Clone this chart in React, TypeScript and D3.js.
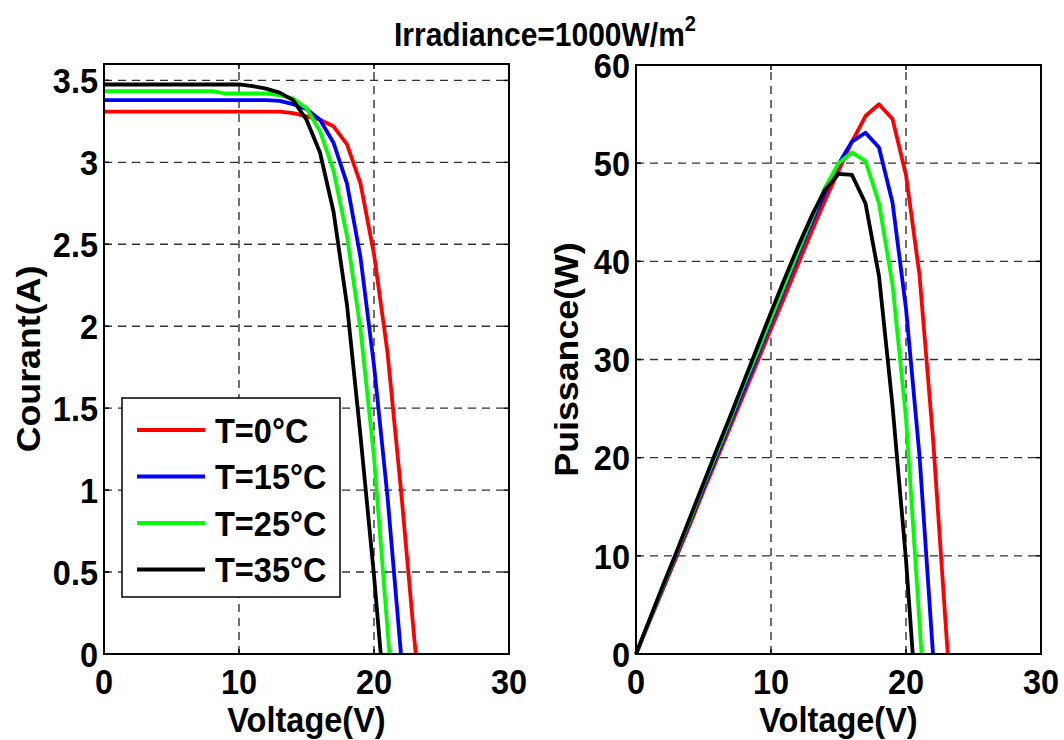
import React from "react";
import * as d3 from "d3";

// ---- data ----
const legendLabels = ["T=0°C", "T=15°C", "T=25°C", "T=35°C"];
const seriesColors = ["#ff0000", "#0000ff", "#00ff00", "#000000"];

const voltageT0 = [0, 1, 2, 3, 4, 5, 6, 7, 8, 9, 10, 11, 12, 13, 14, 15, 16, 17, 18, 19, 20, 21, 22, 23, 23.1];
const currentT0 = [3.31, 3.31, 3.31, 3.31, 3.31, 3.31, 3.31, 3.31, 3.31, 3.31, 3.31, 3.31, 3.31, 3.31, 3.3, 3.28, 3.26, 3.22, 3.11, 2.87, 2.44, 1.84, 1.0, 0.08, 0];
const powerT0 = [0, 3.3, 6.6, 9.9, 13.2, 16.6, 19.9, 23.2, 26.5, 29.8, 33.1, 36.4, 39.7, 43.0, 46.2, 49.2, 52.2, 54.8, 56.0, 54.5, 48.8, 38.6, 22.0, 1.8, 0];

const voltageT15 = [0, 1, 2, 3, 4, 5, 6, 7, 8, 9, 10, 11, 12, 13, 14, 15, 16, 17, 18, 19, 20, 21, 22];
const currentT15 = [3.38, 3.38, 3.38, 3.38, 3.38, 3.38, 3.38, 3.38, 3.38, 3.38, 3.38, 3.38, 3.38, 3.375, 3.355, 3.325, 3.26, 3.12, 2.87, 2.42, 1.76, 0.96, 0];
const powerT15 = [0, 3.4, 6.8, 10.1, 13.5, 16.9, 20.3, 23.7, 27.0, 30.4, 33.8, 37.2, 40.6, 43.9, 47.0, 49.9, 52.2, 53.1, 51.6, 46.0, 35.2, 20.2, 0];

const voltageT25 = [0, 1, 2, 3, 4, 5, 6, 7, 8, 9, 10, 11, 12, 13, 14, 15, 16, 17, 18, 19, 20, 21, 21.15];
const currentT25 = [3.435, 3.435, 3.435, 3.435, 3.435, 3.435, 3.435, 3.435, 3.435, 3.42, 3.42, 3.42, 3.42, 3.41, 3.39, 3.33, 3.19, 2.95, 2.55, 1.98, 1.2, 0.15, 0];
const powerT25 = [0, 3.4, 6.9, 10.3, 13.7, 17.2, 20.6, 24.0, 27.5, 30.8, 34.2, 37.6, 41.0, 44.3, 47.5, 50.0, 51.1, 50.2, 45.9, 37.6, 24.0, 3.2, 0];

const voltageT35 = [0, 1, 2, 3, 4, 5, 6, 7, 8, 9, 10, 11, 12, 13, 14, 15, 16, 17, 18, 19, 20, 20.5];
const currentT35 = [3.475, 3.475, 3.475, 3.475, 3.475, 3.475, 3.475, 3.475, 3.475, 3.475, 3.475, 3.465, 3.45, 3.425, 3.38, 3.26, 3.06, 2.7, 2.13, 1.33, 0.48, 0];
const powerT35 = [0, 3.5, 7.0, 10.4, 13.9, 17.4, 20.9, 24.3, 27.8, 31.3, 34.8, 38.2, 41.5, 44.6, 47.3, 48.9, 48.8, 45.9, 38.5, 25.3, 9.6, 0];

const voltageTicks = [0, 10, 20, 30];
const currentTicks = [0, 0.5, 1, 1.5, 2, 2.5, 3, 3.5];
const currentTickLabels = ["0", "0.5", "1", "1.5", "2", "2.5", "3", "3.5"];
const powerTicks = [0, 10, 20, 30, 40, 50, 60];

const titleText = "Irradiance=1000W/m";
const titleSup = "2";
const xLabel = "Voltage(V)";
const yLabelLeft = "Courant(A)";
const yLabelRight = "Puissance(W)";

// ---- styling ----
const FONT = "'Liberation Sans', Arial, Helvetica, sans-serif";
const SY = 1.1;
const FS = 32.5;

type TxtProps = {
  x: number;
  y: number;
  anchor?: "start" | "middle" | "end";
  size?: number;
  rotate?: boolean;
  children: React.ReactNode;
};

function Txt({ x, y, anchor = "start", size = FS, rotate = false, children }: TxtProps) {
  return (
    <text
      transform={`translate(${x},${y}) scale(1,${SY})${rotate ? " rotate(-90)" : ""}`}
      textAnchor={anchor}
      fontSize={size}
      fontWeight="bold"
      fontFamily={FONT}
      fill="#000"
    >
      {children}
    </text>
  );
}

type Series = { v: number[]; y: number[] };

function Panel({
  x,
  y,
  yTicks,
  yTickLabels,
  series,
  yLabel,
  yLabelX,
}: {
  x: d3.ScaleLinear<number, number>;
  y: d3.ScaleLinear<number, number>;
  yTicks: number[];
  yTickLabels: string[];
  series: Series[];
  yLabel: string;
  yLabelX: number;
}) {
  const [x0, x1] = x.range();
  const [yb, yt] = y.range();
  const capHalf = (FS * 0.716 * SY) / 2;
  const line = d3
    .line<[number, number]>()
    .x((d) => x(d[0]))
    .y((d) => y(d[1]));
  const tickLen = 5;
  return (
    <g>
      {/* grid */}
      {voltageTicks
        .filter((t) => x(t) > x0 + 1 && x(t) < x1 - 1)
        .map((t) => (
          <line key={"gx" + t} x1={x(t)} x2={x(t)} y1={yb} y2={yt} stroke="#333" strokeWidth={1.4} strokeDasharray="8,6" />
        ))}
      {yTicks
        .filter((t) => y(t) < yb - 1 && y(t) > yt + 1)
        .map((t) => (
          <line key={"gy" + t} x1={x0} x2={x1} y1={y(t)} y2={y(t)} stroke="#333" strokeWidth={1.4} strokeDasharray="8,6" />
        ))}
      {/* curves */}
      {series.map((s, i) => (
        <path
          key={"s" + i}
          d={line(s.v.map((v, k) => [v, s.y[k]] as [number, number])) || ""}
          fill="none"
          stroke={seriesColors[i]}
          strokeWidth={3.8}
          strokeLinejoin="round"
        />
      ))}
      {/* box */}
      <rect x={x0} y={yt} width={x1 - x0} height={yb - yt} fill="none" stroke="#000" strokeWidth={2} />
      {/* ticks */}
      {voltageTicks.map((t) => (
        <g key={"tx" + t}>
          <line x1={x(t)} x2={x(t)} y1={yb} y2={yb - tickLen} stroke="#000" strokeWidth={1.5} />
          <line x1={x(t)} x2={x(t)} y1={yt} y2={yt + tickLen} stroke="#000" strokeWidth={1.5} />
        </g>
      ))}
      {yTicks.map((t) => (
        <g key={"ty" + t}>
          <line x1={x0} x2={x0 + tickLen} y1={y(t)} y2={y(t)} stroke="#000" strokeWidth={1.5} />
          <line x1={x1} x2={x1 - tickLen} y1={y(t)} y2={y(t)} stroke="#000" strokeWidth={1.5} />
        </g>
      ))}
      {/* tick labels */}
      {voltageTicks.map((t) => (
        <Txt key={"lx" + t} x={x(t)} y={yb + 40} anchor="middle">
          {String(t)}
        </Txt>
      ))}
      {yTicks.map((t, i) => (
        <Txt key={"ly" + t} x={x0 - 6} y={y(t) + capHalf} anchor="end">
          {yTickLabels[i]}
        </Txt>
      ))}
      {/* axis labels */}
      <Txt x={(x0 + x1) / 2} y={732} anchor="middle">
        {xLabel}
      </Txt>
      <Txt x={yLabelX} y={(yb + yt) / 2} anchor="middle" rotate>
        {yLabel}
      </Txt>
    </g>
  );
}

export default function App() {
  const xL = d3.scaleLinear().domain([0, 30]).range([104, 509]);
  const yL = d3.scaleLinear().domain([0, 3.6]).range([654, 64]);
  const xR = d3.scaleLinear().domain([0, 30]).range([636, 1041]);
  const yR = d3.scaleLinear().domain([0, 60]).range([654, 65]);

  const ivSeries: Series[] = [
    { v: voltageT0, y: currentT0 },
    { v: voltageT15, y: currentT15 },
    { v: voltageT25, y: currentT25 },
    { v: voltageT35, y: currentT35 },
  ];
  const pvSeries: Series[] = [
    { v: voltageT0, y: powerT0 },
    { v: voltageT15, y: powerT15 },
    { v: voltageT25, y: powerT25 },
    { v: voltageT35, y: powerT35 },
  ];

  const legend = { x: 122, y: 398, w: 218, h: 199, first: 430, step: 46.5 };
  const capHalf = (FS * 0.716 * SY) / 2;

  return (
    <svg
      width={1064}
      height={740}
      style={{ position: "absolute", left: 0, top: 0, display: "block", background: "#fff" }}
    >
      <rect x={0} y={0} width={1064} height={740} fill="#fff" />
      <Panel
        x={xL}
        y={yL}
        yTicks={currentTicks}
        yTickLabels={currentTickLabels}
        series={ivSeries}
        yLabel={yLabelLeft}
        yLabelX={40}
      />
      <Panel
        x={xR}
        y={yR}
        yTicks={powerTicks}
        yTickLabels={powerTicks.map(String)}
        series={pvSeries}
        yLabel={yLabelRight}
        yLabelX={578}
      />
      {/* legend */}
      <rect x={legend.x} y={legend.y} width={legend.w} height={legend.h} fill="#fff" stroke="#000" strokeWidth={1.5} />
      {legendLabels.map((lab, i) => {
        const ly = legend.first + i * legend.step;
        return (
          <g key={"lg" + i}>
            <line x1={137} x2={205} y1={ly} y2={ly} stroke={seriesColors[i]} strokeWidth={3.8} />
            <Txt x={215} y={ly + capHalf}>
              {lab}
            </Txt>
          </g>
        );
      })}
      {/* title */}
      <text
        transform={`translate(394,46) scale(1,${SY})`}
        fontSize={30}
        fontWeight="bold"
        fontFamily={FONT}
        fill="#000"
      >
        {titleText}
        <tspan fontSize={20} dy={-14}>
          {titleSup}
        </tspan>
      </text>
    </svg>
  );
}
